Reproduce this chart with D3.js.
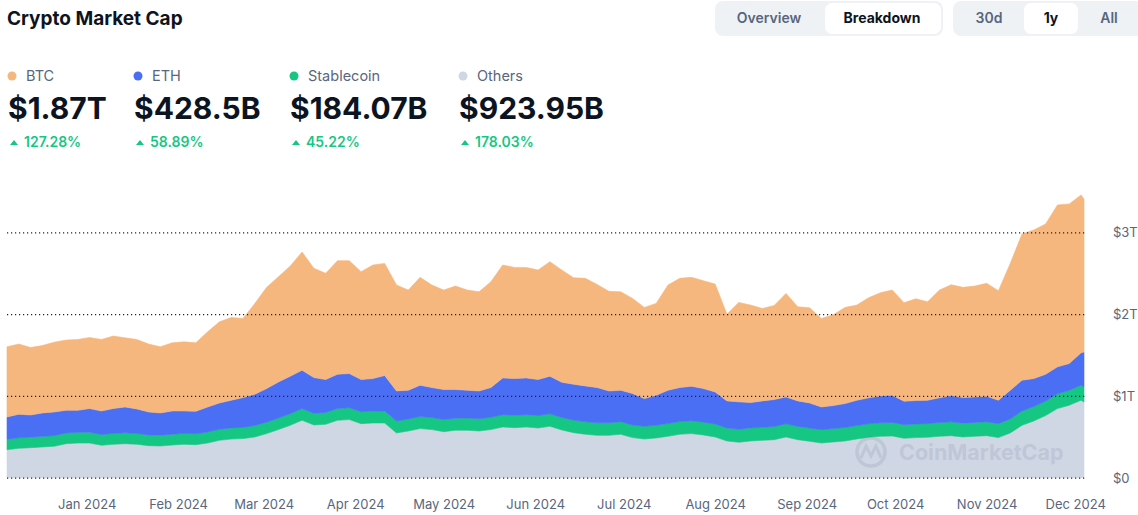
<!DOCTYPE html>
<html><head><meta charset="utf-8">
<script src="https://cdn.jsdelivr.net/npm/d3@7"></script>
<style>
html,body{margin:0;padding:0;background:#fff;}
svg{display:block;font-family:Inter,"Noto Sans",sans-serif;}
</style></head>
<body><svg id="c" width="1138" height="515"></svg>
<script>
// ---- data (values in trillions USD) ----
const dates = ["2023-12-05","2023-12-09","2023-12-13","2023-12-17","2023-12-21","2023-12-25","2023-12-29","2024-01-02","2024-01-06","2024-01-10",
"2024-01-14","2024-01-18","2024-01-22","2024-01-26","2024-01-30","2024-02-03","2024-02-07","2024-02-11","2024-02-15","2024-02-19",
"2024-02-23","2024-02-27","2024-03-02","2024-03-06","2024-03-10","2024-03-14","2024-03-18","2024-03-22","2024-03-26","2024-03-30",
"2024-04-03","2024-04-07","2024-04-11","2024-04-15","2024-04-19","2024-04-23","2024-04-27","2024-05-01","2024-05-05","2024-05-09",
"2024-05-13","2024-05-17","2024-05-21","2024-05-25","2024-05-29","2024-06-02","2024-06-06","2024-06-10","2024-06-14","2024-06-18",
"2024-06-22","2024-06-26","2024-06-30","2024-07-04","2024-07-08","2024-07-12","2024-07-16","2024-07-20","2024-07-24","2024-07-28",
"2024-08-01","2024-08-05","2024-08-09","2024-08-13","2024-08-17","2024-08-21","2024-08-25","2024-08-29","2024-09-02","2024-09-06",
"2024-09-10","2024-09-14","2024-09-18","2024-09-22","2024-09-26","2024-09-30","2024-10-04","2024-10-08","2024-10-12","2024-10-16",
"2024-10-20","2024-10-24","2024-10-28","2024-11-01","2024-11-05","2024-11-09","2024-11-13","2024-11-17","2024-11-21","2024-11-25",
"2024-11-29","2024-12-03","2024-12-04"];

const others = [0.343,0.359,0.367,0.376,0.384,0.416,0.424,0.424,0.396,0.408,
0.416,0.408,0.392,0.388,0.400,0.408,0.404,0.424,0.457,0.473,
0.478,0.498,0.539,0.588,0.641,0.702,0.645,0.653,0.702,0.710,
0.661,0.669,0.669,0.547,0.571,0.600,0.588,0.563,0.580,0.580,
0.571,0.588,0.620,0.612,0.620,0.608,0.629,0.584,0.551,0.531,
0.518,0.518,0.531,0.490,0.473,0.486,0.506,0.531,0.539,0.522,
0.498,0.449,0.433,0.449,0.457,0.465,0.498,0.465,0.445,0.424,
0.437,0.449,0.473,0.494,0.506,0.510,0.482,0.490,0.494,0.506,
0.514,0.498,0.506,0.514,0.490,0.547,0.641,0.694,0.759,0.845,
0.886,0.947,0.924];

const stablecoin = [0.128,0.129,0.129,0.130,0.130,0.131,0.131,0.132,0.131,0.132,
0.132,0.132,0.131,0.131,0.132,0.132,0.133,0.134,0.135,0.136,
0.137,0.139,0.140,0.141,0.142,0.143,0.143,0.144,0.144,0.145,
0.146,0.147,0.147,0.146,0.146,0.147,0.147,0.148,0.148,0.149,
0.149,0.150,0.150,0.151,0.151,0.152,0.152,0.152,0.153,0.153,
0.153,0.154,0.154,0.154,0.155,0.155,0.156,0.156,0.157,0.157,
0.158,0.159,0.159,0.160,0.160,0.161,0.161,0.162,0.162,0.163,
0.163,0.164,0.164,0.165,0.165,0.166,0.166,0.167,0.167,0.168,
0.169,0.169,0.170,0.170,0.171,0.172,0.174,0.176,0.178,0.180,
0.182,0.184,0.184];

const eth = [0.272,0.288,0.271,0.286,0.290,0.277,0.269,0.289,0.289,0.305,
0.317,0.301,0.281,0.273,0.284,0.276,0.275,0.307,0.322,0.338,
0.365,0.383,0.411,0.442,0.458,0.469,0.436,0.403,0.419,0.418,
0.393,0.396,0.433,0.368,0.352,0.384,0.367,0.367,0.350,0.340,
0.341,0.364,0.450,0.449,0.449,0.440,0.460,0.431,0.439,0.438,
0.431,0.389,0.384,0.385,0.339,0.367,0.407,0.415,0.422,0.411,
0.393,0.331,0.335,0.309,0.322,0.329,0.329,0.312,0.307,0.278,
0.282,0.293,0.310,0.317,0.329,0.332,0.287,0.286,0.286,0.302,
0.321,0.313,0.312,0.312,0.286,0.350,0.377,0.342,0.328,0.330,
0.328,0.396,0.4285];

const btc = [0.857,0.857,0.825,0.824,0.853,0.858,0.866,0.869,0.874,0.886,
0.845,0.849,0.829,0.808,0.833,0.845,0.837,0.919,0.992,1.012,
0.967,1.111,1.237,1.286,1.347,1.445,1.335,1.298,1.388,1.380,
1.318,1.388,1.371,1.294,1.225,1.318,1.253,1.216,1.265,1.225,
1.212,1.294,1.380,1.359,1.351,1.339,1.400,1.372,1.302,1.315,
1.261,1.217,1.204,1.163,1.115,1.123,1.286,1.335,1.331,1.318,
1.318,1.060,1.216,1.192,1.130,1.151,1.265,1.151,1.164,1.082,
1.110,1.176,1.163,1.224,1.261,1.286,1.204,1.245,1.204,1.318,
1.355,1.347,1.355,1.380,1.339,1.551,1.788,1.817,1.837,1.980,
1.951,1.930,1.870];

const seriesNames = ["BTC","ETH","Stablecoin","Others"];
const latestValues = ["$1.87T","$428.5B","$184.07B","$923.95B"];
const changes = ["127.28%","58.89%","45.22%","178.03%"];
const monthTicks = ["2024-01-01","2024-02-01","2024-03-01","2024-04-01","2024-05-01","2024-06-01","2024-07-01","2024-08-01","2024-09-01","2024-10-01","2024-11-01","2024-12-01"];
const monthLabels = ["Jan 2024","Feb 2024","Mar 2024","Apr 2024","May 2024","Jun 2024","Jul 2024","Aug 2024","Sep 2024","Oct 2024","Nov 2024","Dec 2024"];
const yTicks = [0,1,2,3];
const yTickLabels = ["$0","$1T","$2T","$3T"];

// ---- styles ----
const colors = {btc:"#f5b77e", eth:"#4a6ff5", stablecoin:"#16c784", others:"#cfd6e4"};
const dotColors = ["#f5b77e","#4a6ff5","#16c784","#cfd6e4"];
const textDark = "#0d1421", textGrey = "#58667e", green = "#16c784";

const svg = d3.select("#c");
const parse = d3.utcParse("%Y-%m-%d");
const rows = dates.map((d,i)=>({date:parse(d), others:others[i], stablecoin:stablecoin[i], eth:eth[i], btc:btc[i]}));

const x = d3.scaleUtc().domain([rows[0].date, rows[rows.length-1].date]).range([7,1084]);
const y = d3.scaleLinear().domain([0,3.5]).range([477.7, 477.7-3.5*81.8]);

const keys = ["others","stablecoin","eth","btc"];
const stacked = d3.stack().keys(keys)(rows);
const area = d3.area().x(d=>x(d.data.date)).y0(d=>y(d[0])).y1(d=>y(d[1])).curve(d3.curveLinear);

svg.append("g").selectAll("path").data(stacked).join("path")
  .attr("d", area).attr("fill", d=>colors[d.key]).attr("stroke", d=>colors[d.key]).attr("stroke-width",0.6);

// watermark
const wm = svg.append("g").attr("opacity",0.13).attr("fill","#58667e").attr("stroke","#58667e");
wm.append("circle").attr("cx",871).attr("cy",452).attr("r",14).attr("fill","none").attr("stroke-width",3.5);
wm.append("path").attr("d","M861,458 L866,446 L871,456 L876,446 L881,458").attr("fill","none").attr("stroke-width",3);
wm.append("text").attr("x",899).attr("y",460).attr("stroke","none").attr("font-size",21.5).attr("font-weight",700).text("CoinMarketCap");

// grid lines (dotted, on top)
svg.append("g").selectAll("line").data(yTicks).join("line")
  .attr("x1",7).attr("x2",1086).attr("y1",d=>y(d)+0.5).attr("y2",d=>y(d)+0.5)
  .attr("stroke","#222").attr("stroke-width",1.2).attr("stroke-dasharray","1.2,2.8");

// y axis labels
const yAxis = d3.axisRight(y).tickValues(yTicks).tickFormat((d,i)=>yTickLabels[i]).tickSize(0).tickPadding(0);
const yg = svg.append("g").attr("transform","translate(1113,0)").call(yAxis);
yg.select(".domain").remove();
yg.selectAll("text").attr("fill",textGrey).attr("font-size",13).attr("font-family","Inter,sans-serif").attr("dy","0.35em").attr("x",0);

// x axis labels
const xAxis = d3.axisBottom(x).tickValues(monthTicks.map(parse)).tickFormat((d,i)=>monthLabels[i]).tickSize(0).tickPadding(0);
const xg = svg.append("g").attr("transform","translate(0,504)").call(xAxis);
xg.select(".domain").remove();
xg.selectAll("text").attr("fill",textGrey).attr("font-size",13).attr("font-family","Inter,sans-serif").attr("dy","0.35em").attr("y",0);

// title
svg.append("text").attr("x",7).attr("y",25).attr("font-size",19).attr("font-weight",700).attr("fill",textDark).text("Crypto Market Cap");

// toggle buttons
function btnGroup(x0,w,labels,centers,activeIdx,act){
  svg.append("rect").attr("x",x0).attr("y",1).attr("width",w).attr("height",35).attr("rx",8).attr("fill","#eff2f5");
  svg.append("rect").attr("x",act[0]).attr("y",3).attr("width",act[1]).attr("height",31).attr("rx",7).attr("fill","#fff");
  labels.forEach((l,i)=>{
    svg.append("text").attr("x",centers[i]).attr("y",23).attr("text-anchor","middle").attr("font-size",14)
      .attr("font-weight", i===activeIdx?700:600).attr("fill", i===activeIdx?textDark:textGrey).text(l);
  });
}
btnGroup(715,228,["Overview","Breakdown"],[769,882],1,[825,116]);
btnGroup(953,190,["30d","1y","All"],[989,1051,1109],1,[1024,54]);

// legend / stats
const lx = [12,138,294,463];
seriesNames.forEach((n,i)=>{
  const g = svg.append("g");
  g.append("circle").attr("cx",lx[i]).attr("cy",76).attr("r",4.5).attr("fill",dotColors[i]);
  g.append("text").attr("x",lx[i]+14).attr("y",81).attr("font-size",14.5).attr("fill",textGrey).text(n);
  g.append("text").attr("x",lx[i]-4).attr("y",119).attr("font-size",30).attr("font-weight",700).attr("fill",textDark).text(latestValues[i]);
  const tx = lx[i]+2;
  g.append("path").attr("d",`M${tx-4},145 L${tx},140 L${tx+4},145 Z`).attr("fill",green);
  g.append("text").attr("x",lx[i]+12).attr("y",147).attr("font-size",14).attr("font-weight",600).attr("fill",green).text(changes[i]);
});
</script></body></html>
